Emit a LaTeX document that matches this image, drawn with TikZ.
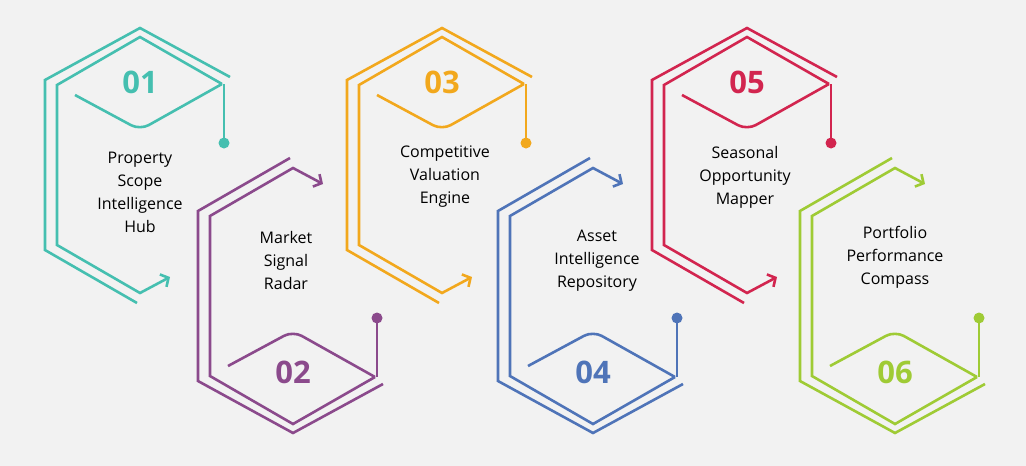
\documentclass[tikz,border=0pt]{standalone}
\usepackage{fontspec}
\setmainfont{Open Sans}
\usetikzlibrary{arrows.meta}
\definecolor{bg}{HTML}{F2F2F2}
\definecolor{c1}{HTML}{45BFB0}
\definecolor{c2}{HTML}{8B4A8C}
\definecolor{c3}{HTML}{F2A81D}
\definecolor{c4}{HTML}{4F74B8}
\definecolor{c5}{HTML}{D2254F}
\definecolor{c6}{HTML}{9FCB35}
\tikzset{
 ln/.style={line width=2.6pt},
 arr/.style={ln,-{Straight Barb[length=6pt,width=14pt,line width=2.6pt]}},
 num/.style={font=\bfseries\fontsize{31}{31}\selectfont},
 lbl/.style={font=\fontsize{16}{23}\selectfont,align=center,text=black},
 pics/tophex/.style={code={
  \draw[ln,#1] (90,77)--(0,28)--(-95,80)--(-95,250)--(-3,303);
  \draw[ln,#1,rounded corners=10pt] (-65,95)--(0,130)--(82,84);
  \draw[arr,#1] (82,84)--(0,37)--(-83,85)--(-83,245)--(0,293)--(30,277);
  \draw[ln,#1] (84,84)--(84,143);
  \fill[#1] (84,143) circle (5.5);
 }},
 pics/bothex/.style={code={
  \draw[ln,#1] (90,384)--(0,433)--(-95,381)--(-95,211)--(-3,158);
  \draw[ln,#1,rounded corners=10pt] (-65,366)--(0,331)--(82,377);
  \draw[arr,#1] (82,377)--(0,424)--(-83,376)--(-83,216)--(0,168)--(30,184);
  \draw[ln,#1] (84,377)--(84,318);
  \fill[#1] (84,318) circle (5.5);
 }}
}
\begin{document}
\begin{tikzpicture}[x=1pt,y=-1pt]
\fill[bg] (0,0) rectangle (1026,466);
\useasboundingbox (0,0) rectangle (1026,466);
\pic at (140,0) {tophex=c1};
\pic at (293,0) {bothex=c2};
\pic at (442,0) {tophex=c3};
\pic at (593,0) {bothex=c4};
\pic at (747,0) {tophex=c5};
\pic at (895,0) {bothex=c6};
\node[num,text=c1] (n1) at (140,82) {01};
\node[num,text=c2] (n2) at (293,372) {02};
\node[num,text=c3] (n3) at (442,82) {03};
\node[num,text=c4] (n4) at (593,372) {04};
\node[num,text=c5] (n5) at (747,82) {05};
\node[num,text=c6] (n6) at (895,372) {06};
\node[lbl] (t1) at (140,192) {Property\\Scope\\Intelligence\\Hub};
\node[lbl] (t2) at (286,260) {Market\\Signal\\Radar};
\node[lbl] (t3) at (445,177) {Competitive\\Valuation\\Engine};
\node[lbl] (t4) at (597,261) {Asset\\Intelligence\\Repository};
\node[lbl] (t5) at (745,177) {Seasonal\\Opportunity\\Mapper};
\node[lbl] (t6) at (895,257) {Portfolio\\Performance\\Compass};
\end{tikzpicture}
\end{document}
